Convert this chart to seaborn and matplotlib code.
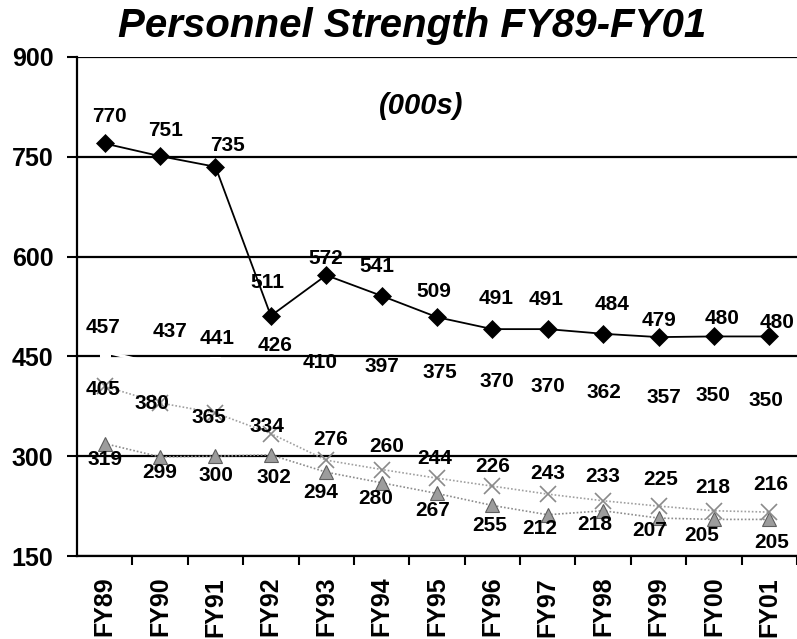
import matplotlib
matplotlib.use("Agg")
import matplotlib.pyplot as plt
import seaborn as sns
import pandas as pd
import numpy as np

# ---- data ----
years = ["FY89", "FY90", "FY91", "FY92", "FY93", "FY94", "FY95",
         "FY96", "FY97", "FY98", "FY99", "FY00", "FY01"]
series_a = [770, 751, 735, 511, 572, 541, 509, 491, 491, 484, 479, 480, 480]   # black diamonds
series_b = [457, 437, 441, 426, 410, 397, 375, 370, 370, 362, 357, 350, 350]   # white (hidden) line
series_c = [405, 380, 365, 334, 294, 280, 267, 255, 243, 233, 225, 218, 216]   # grey crosses
series_d = [319, 299, 300, 302, 276, 260, 244, 226, 212, 218, 207, 205, 205]   # grey triangles
yticks = [150, 300, 450, 600, 750, 900]
title = "Personnel Strength FY89-FY01"
subtitle = "(000s)"

# ---- label placement (pixel offsets, style only) ----
off_a = [(5, 27), (5, 26), (12, 21), (-3, 33), (0, 17), (-5, 29), (-3, 26),
         (4, 31), (-2, 30), (9, 29), (0, 17), (8, 18), (8, 14)]
off_b = [(-2, 24), (10, 34), (2, 24), (4, 27), (-6, 21), (0, 25), (3, 34),
         (4, 28), (0, 23), (1, 22), (5, 21), (-1, 27), (-3, 22)]
off_c = [(-2, -3), (-8, -1), (-7, -5), (-4, 7), (-6, -32), (-6, -29), (-4, -32),
         (-3, -39), (0, 21), (0, 24), (2, 27), (-1, 23), (1, 28)]
off_d = [(0, -16), (0, -16), (0, -19), (3, -23), (4, 33), (5, 36), (-2, 35),
         (0, 39), (-8, -14), (-8, -14), (-9, -12), (-12, -16), (2, -23)]

sns.set_theme(style="white")
plt.rcParams["font.family"] = ["Liberation Sans", "DejaVu Sans"]
plt.rcParams["text.color"] = "black"
plt.rcParams["xtick.color"] = "black"
plt.rcParams["ytick.color"] = "black"
plt.rcParams["xtick.labelcolor"] = "black"
plt.rcParams["ytick.labelcolor"] = "black"

W, H = 797, 639
fig = plt.figure(figsize=(W / 100, H / 100), dpi=100)
ax = fig.add_axes([77 / W, 1 - 556 / H, 720 / W, (556 - 57) / H])

idx = np.arange(len(years))
df = pd.DataFrame({"idx": idx, "a": series_a, "b": series_b,
                   "c": series_c, "d": series_d})

# grey triangles
sns.lineplot(data=df, x="idx", y="d", ax=ax, color="#8c8c8c", linewidth=1.2,
             linestyle=(0, (1, 1.2)), marker="^", markersize=10,
             markerfacecolor="#9c9c9c", markeredgecolor="#5e5e5e",
             markeredgewidth=0.8, zorder=3)
# grey crosses
sns.lineplot(data=df, x="idx", y="c", ax=ax, color="#a0a0a0", linewidth=1.2,
             linestyle=(0, (1, 1.2)), marker="x", markersize=11,
             markeredgecolor="#8a8a8a", markeredgewidth=1.2, zorder=3)
# white series
sns.lineplot(data=df, x="idx", y="b", ax=ax, color="white", linewidth=2.2,
             marker="s", markersize=7, markerfacecolor="white",
             markeredgecolor="white", zorder=3)
# black diamonds
sns.lineplot(data=df, x="idx", y="a", ax=ax, color="black", linewidth=1.3,
             marker="D", markersize=9, markerfacecolor="black",
             markeredgecolor="black", markeredgewidth=0.5, zorder=4)

# data labels
for vals, offs in [(series_a, off_a), (series_b, off_b),
                   (series_c, off_c), (series_d, off_d)]:
    for i, (v, o) in enumerate(zip(vals, offs)):
        ax.annotate(str(v), (i, v), xytext=o, textcoords="offset pixels",
                    ha="center", va="center", fontsize=15, fontweight="bold",
                    color="black", zorder=6)

# axes
ax.set_xlim(-0.5, len(years) - 0.5)
ax.set_ylim(150, 900)
ax.set_yticks(yticks)
ax.set_yticklabels([str(t) for t in yticks], fontsize=18, fontweight="bold",
                   color="black")
ax.set_xticks(idx)
ax.set_xticklabels(years, rotation=90, fontsize=18, fontweight="bold",
                   va="top", ha="center", color="black")
ax.set_xticks(np.arange(0.5, len(years), 1.0), minor=True)
ax.set_xlabel("")
ax.set_ylabel("")

ax.grid(axis="y", color="black", linewidth=1.6, zorder=1)
ax.grid(axis="x", visible=False)
ax.set_axisbelow(True)
for s in ["right", "top"]:
    ax.spines[s].set_visible(False)
for s in ["left", "bottom"]:
    ax.spines[s].set_color("black")
    ax.spines[s].set_linewidth(1.6)

ax.tick_params(axis="y", which="major", direction="out", length=7,
               width=1.5, color="black", pad=10, left=True)
ax.tick_params(axis="x", which="major", length=0, pad=15, bottom=True)
ax.tick_params(axis="x", which="minor", direction="out", length=6.5,
               width=1.5, color="black", bottom=True)
ax.set_facecolor("white")
fig.patch.set_facecolor("white")

fig.text(412 / W, 1 - 37 / H, title, ha="center", va="baseline",
         fontsize=29, fontweight="bold", fontstyle="italic", color="black")
fig.text(421 / W, 1 - 114 / H, subtitle, ha="center", va="baseline",
         fontsize=21, fontweight="bold", fontstyle="italic", color="black")

fig.savefig("out.png", dpi=100, facecolor="white")
